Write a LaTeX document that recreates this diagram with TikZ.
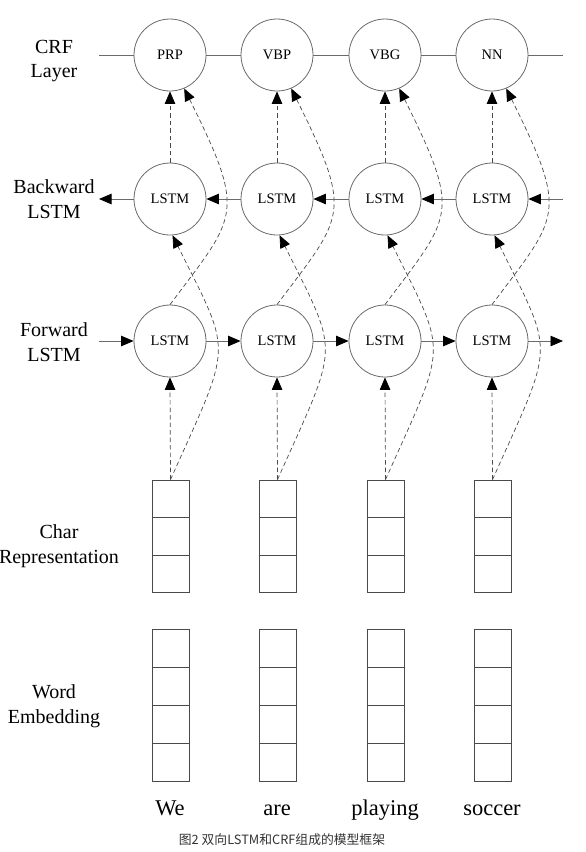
\documentclass[tikz,border=0pt]{standalone}
\usepackage{fontspec}
\setmainfont{Liberation Serif}
\newfontfamily\cjk{Noto Sans CJK SC}
\usetikzlibrary{arrows.meta}
\definecolor{lncol}{HTML}{6A6A6A}
\definecolor{dshcol}{HTML}{4A4A4A}
\definecolor{boxcol}{HTML}{4A4A4A}
\begin{document}
\begin{tikzpicture}[x=1pt,y=-1pt,
  cell/.style={circle,draw=lncol,line width=0.8pt,minimum size=72pt,inner sep=0pt,
    font=\fontsize{14.5}{17}\selectfont},
  vcell/.style={rectangle,draw=boxcol,line width=0.8pt,minimum width=37pt,minimum height=37.6pt,inner sep=0pt},
  hline/.style={draw=lncol,line width=0.8pt},
  harr/.style={hline,-{Triangle[length=12.5pt,width=10.5pt,color=black,fill=black]}},
  dsh/.style={draw=dshcol,line width=0.7pt,dash pattern=on 4.5pt off 3pt,
    -{Triangle[length=12.5pt,width=10.5pt,color=black,fill=black]}},
  lab/.style={align=center,font=\fontsize{20}{24.5}\selectfont},
  wrd/.style={anchor=base,font=\fontsize{22.5}{26}\selectfont}]
\useasboundingbox (0,0) rectangle (586,852);

% row labels
\node[lab] (lcrf) at (54,61) {CRF\\Layer};
\node[lab] (lbw) at (54,199) {Backward\\LSTM};
\node[lab] (lfw) at (54,342) {Forward\\LSTM};
\node[lab] (lch) at (59,546) {Char\\Representation};
\node[lab] (lwe) at (54,706) {Word\\Embedding};

% free ends of horizontal lines
\coordinate (crfL) at (99,55);
\coordinate (crfR) at (563,55);
\coordinate (bwdL) at (99,199);
\coordinate (bwdR) at (563,199);
\coordinate (fwdL) at (99,341);
\coordinate (fwdR) at (563,341);

\foreach \i/\x/\tag/\w in {1/170/PRP/We, 2/277/VBP/are, 3/385/VBG/playing, 4/492/NN/soccer}{
  \node[cell] (crf\i) at (\x,55) {\tag};
  \node[cell] (bwd\i) at (\x,199) {LSTM};
  \node[cell] (fwd\i) at (\x,341) {LSTM};
  \node[vcell] (ch\i a) at (\x+0.5,498.8) {};
  \node[vcell] (ch\i b) at (\x+0.5,536.4) {};
  \node[vcell] (ch\i c) at (\x+0.5,574.0) {};
  \node[vcell,minimum height=38pt] (we\i a) at (\x+0.5,648) {};
  \node[vcell,minimum height=38pt] (we\i b) at (\x+0.5,686) {};
  \node[vcell,minimum height=38pt] (we\i c) at (\x+0.5,724) {};
  \node[vcell,minimum height=38pt] (we\i d) at (\x+0.5,762) {};
  \node[wrd] (w\i) at (\x,815) {\w};
  % dashed connections
  \draw[dsh] (ch\i a.north) -- (fwd\i.south);
  \draw[dsh] (ch\i a.north) .. controls (\x+63,340) and (\x+63,357) .. (bwd\i.-86);
  \draw[dsh] (fwd\i.north) .. controls (\x+67,215) and (\x+77,215) .. (crf\i.-67);
  \draw[dsh] (bwd\i.north) -- (crf\i.south);
}

% CRF chain
\draw[hline] (crfL) -- (crf1);
\draw[hline] (crf1) -- (crf2);
\draw[hline] (crf2) -- (crf3);
\draw[hline] (crf3) -- (crf4);
\draw[hline] (crf4) -- (crfR);
% backward chain
\draw[harr] (bwdR) -- (bwd4);
\draw[harr] (bwd4) -- (bwd3);
\draw[harr] (bwd3) -- (bwd2);
\draw[harr] (bwd2) -- (bwd1);
\draw[harr] (bwd1) -- (bwdL);
% forward chain
\draw[harr] (fwdL) -- (fwd1);
\draw[harr] (fwd1) -- (fwd2);
\draw[harr] (fwd2) -- (fwd3);
\draw[harr] (fwd3) -- (fwd4);
\draw[harr] (fwd4) -- (fwdR);

% caption
\node[font=\cjk\fontsize{12.8}{15}\selectfont,text=black!80] (cap) at (282,840) {图2 双向LSTM和CRF组成的模型框架};
\end{tikzpicture}
\end{document}
